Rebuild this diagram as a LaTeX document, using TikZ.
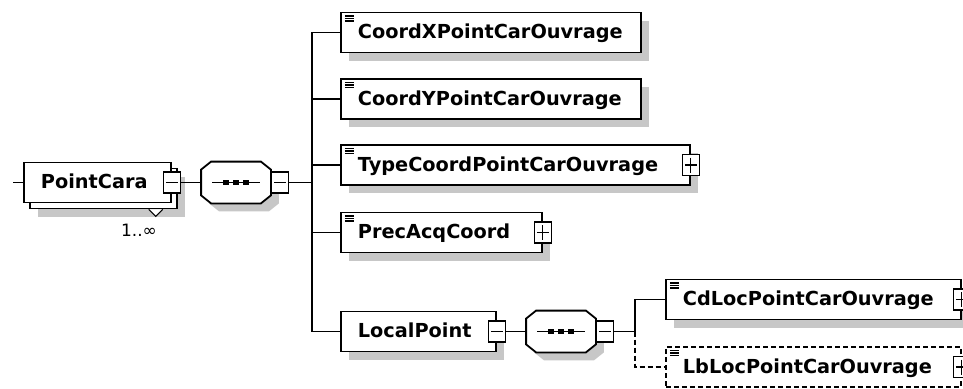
\documentclass[tikz,border=0pt]{standalone}
\usepackage{fontspec}
\setmainfont{DejaVu Sans}
\usetikzlibrary{shadows}

\begin{document}
\begin{tikzpicture}[x=1pt,y=-1pt,line width=1.8pt,
  shade8/.style={drop shadow={shadow xshift=8pt,shadow yshift=-8pt,fill=black!22,opacity=1}},
  elem/.style={draw,fill=white,anchor=west,minimum height=40pt,inner xsep=17pt,
    text width=#1,align=left,text height=15pt,text depth=3pt,
    font=\fontsize{19.3}{22}\selectfont\bfseries},
  simple/.style={path picture={
    \draw[solid,line width=1.1pt]
      ([shift={(4pt,-3.5pt)}]path picture bounding box.north west) -- ++(9pt,0pt)
      ([shift={(4pt,-6pt)}]path picture bounding box.north west) -- ++(9pt,0pt)
      ([shift={(4pt,-8.5pt)}]path picture bounding box.north west) -- ++(9pt,0pt);}},
  leaf/.style={elem=#1,shade8,simple},
  cplx/.style={elem=#1,shade8},
  optleaf/.style={elem=#1,simple,dash pattern=on 5pt off 3pt},
  multi/.style={elem=#1,
    general shadow={shadow xshift=14pt,shadow yshift=-14pt,fill=black!22},
    general shadow={shadow xshift=6pt,shadow yshift=-6pt,fill=white,draw=black}},
  btn/.style={draw,solid,fill=white,minimum width=17pt,minimum height=21pt,inner sep=0pt,line width=1.5pt},
  minus/.style={btn,path picture={
    \draw[line width=1.3pt] ([xshift=2.5pt]path picture bounding box.west) -- ([xshift=-2.5pt]path picture bounding box.east);}},
  plus/.style={btn,path picture={
    \draw[line width=1.3pt] ([xshift=2.5pt]path picture bounding box.west) -- ([xshift=-2.5pt]path picture bounding box.east)
      ([yshift=-3pt]path picture bounding box.north) -- ([yshift=3pt]path picture bounding box.south);}},
  seq/.style={minimum width=68pt,minimum height=40pt,inner sep=0pt,
    append after command={\pgfextra{
      \draw[fill=white,shade8] ([xshift=10pt]\tikzlastnode.north west) -- ([xshift=-10pt]\tikzlastnode.north east)
        -- ([yshift=-8pt]\tikzlastnode.north east) -- ([yshift=8pt]\tikzlastnode.south east)
        -- ([xshift=-10pt]\tikzlastnode.south east) -- ([xshift=10pt]\tikzlastnode.south west)
        -- ([yshift=8pt]\tikzlastnode.south west) -- ([yshift=-8pt]\tikzlastnode.north west) -- cycle;
      \draw[line width=1.3pt] ([xshift=-24pt]\tikzlastnode.center) -- ([xshift=24pt]\tikzlastnode.center);
      \fill[black] ([xshift=-10pt]\tikzlastnode.center) +(-2.6pt,-2.6pt) rectangle +(2.6pt,2.6pt);
      \fill[black] (\tikzlastnode.center) +(-2.6pt,-2.6pt) rectangle +(2.6pt,2.6pt);
      \fill[black] ([xshift=10pt]\tikzlastnode.center) +(-2.6pt,-2.6pt) rectangle +(2.6pt,2.6pt);}}},
  mult/.style={font=\fontsize{17}{20}\selectfont,inner sep=0pt}]
  \useasboundingbox (0,0) rectangle (963,388);
  \clip (0,0) rectangle (963,388);

  % Root element
  \coordinate (stub) at (13,182.5);
  \node[multi=113pt] (pointcara) at (23,182.5) {PointCara};
  \node[minus] (pcbtn) at (pointcara.east) {};
  \draw[fill=white,line width=1.1pt] ([shift={(-23,6)}]pointcara.south east) -- ++(7,7) -- ++(7,-7);
  \node[mult] (pcmult) at (139,230) {1..∞};

  % Sequence
  \node[seq] (seq1) at (236,182.5) {};
  \node[minus,anchor=west] (seq1btn) at (seq1.east) {};
  \coordinate (bus1) at (312,182.5);

  % Children
  \node[leaf=266pt] (coordx) at (340,32.5) {CoordXPointCarOuvrage};
  \node[leaf=266pt] (coordy) at (340,99) {CoordYPointCarOuvrage};
  \node[leaf=315pt] (typecoord) at (340,165) {TypeCoordPointCarOuvrage};
  \node[plus] (typebtn) at (typecoord.east) {};
  \node[leaf=167pt] (precacq) at (340,232.5) {PrecAcqCoord};
  \node[plus] (precbtn) at (precacq.east) {};
  \node[cplx=121pt] (localpt) at (340,331.5) {LocalPoint};
  \node[minus] (localbtn) at (localpt.east) {};

  % Local point sequence
  \node[seq] (seq2) at (561,331.5) {};
  \node[minus,anchor=west] (seq2btn) at (seq2.east) {};
  \coordinate (bus2) at (635,331.5);
  \node[leaf=261pt] (cdloc) at (665,299.5) {CdLocPointCarOuvrage};
  \node[plus] (cdbtn) at (cdloc.east) {};
  \node[optleaf=261pt] (lbloc) at (665,367) {LbLocPointCarOuvrage};
  \node[plus] (lbbtn) at (lbloc.east) {};

  % Connectors
  \draw (stub) -- (pointcara.west);
  \draw (pcbtn.east) -- (seq1.west);
  \draw (seq1btn.east) -- (bus1);
  \draw (coordx.west) -| (bus1) |- (localpt.west);
  \draw (bus1) |- (coordy.west);
  \draw (bus1) |- (typecoord.west);
  \draw (bus1) |- (precacq.west);
  \draw (localbtn.east) -- (seq2.west);
  \draw (seq2btn.east) -- (bus2);
  \draw (bus2) |- (cdloc.west);
  \draw[dash pattern=on 5pt off 3pt] (bus2) |- (lbloc.west);
\end{tikzpicture}
\end{document}
